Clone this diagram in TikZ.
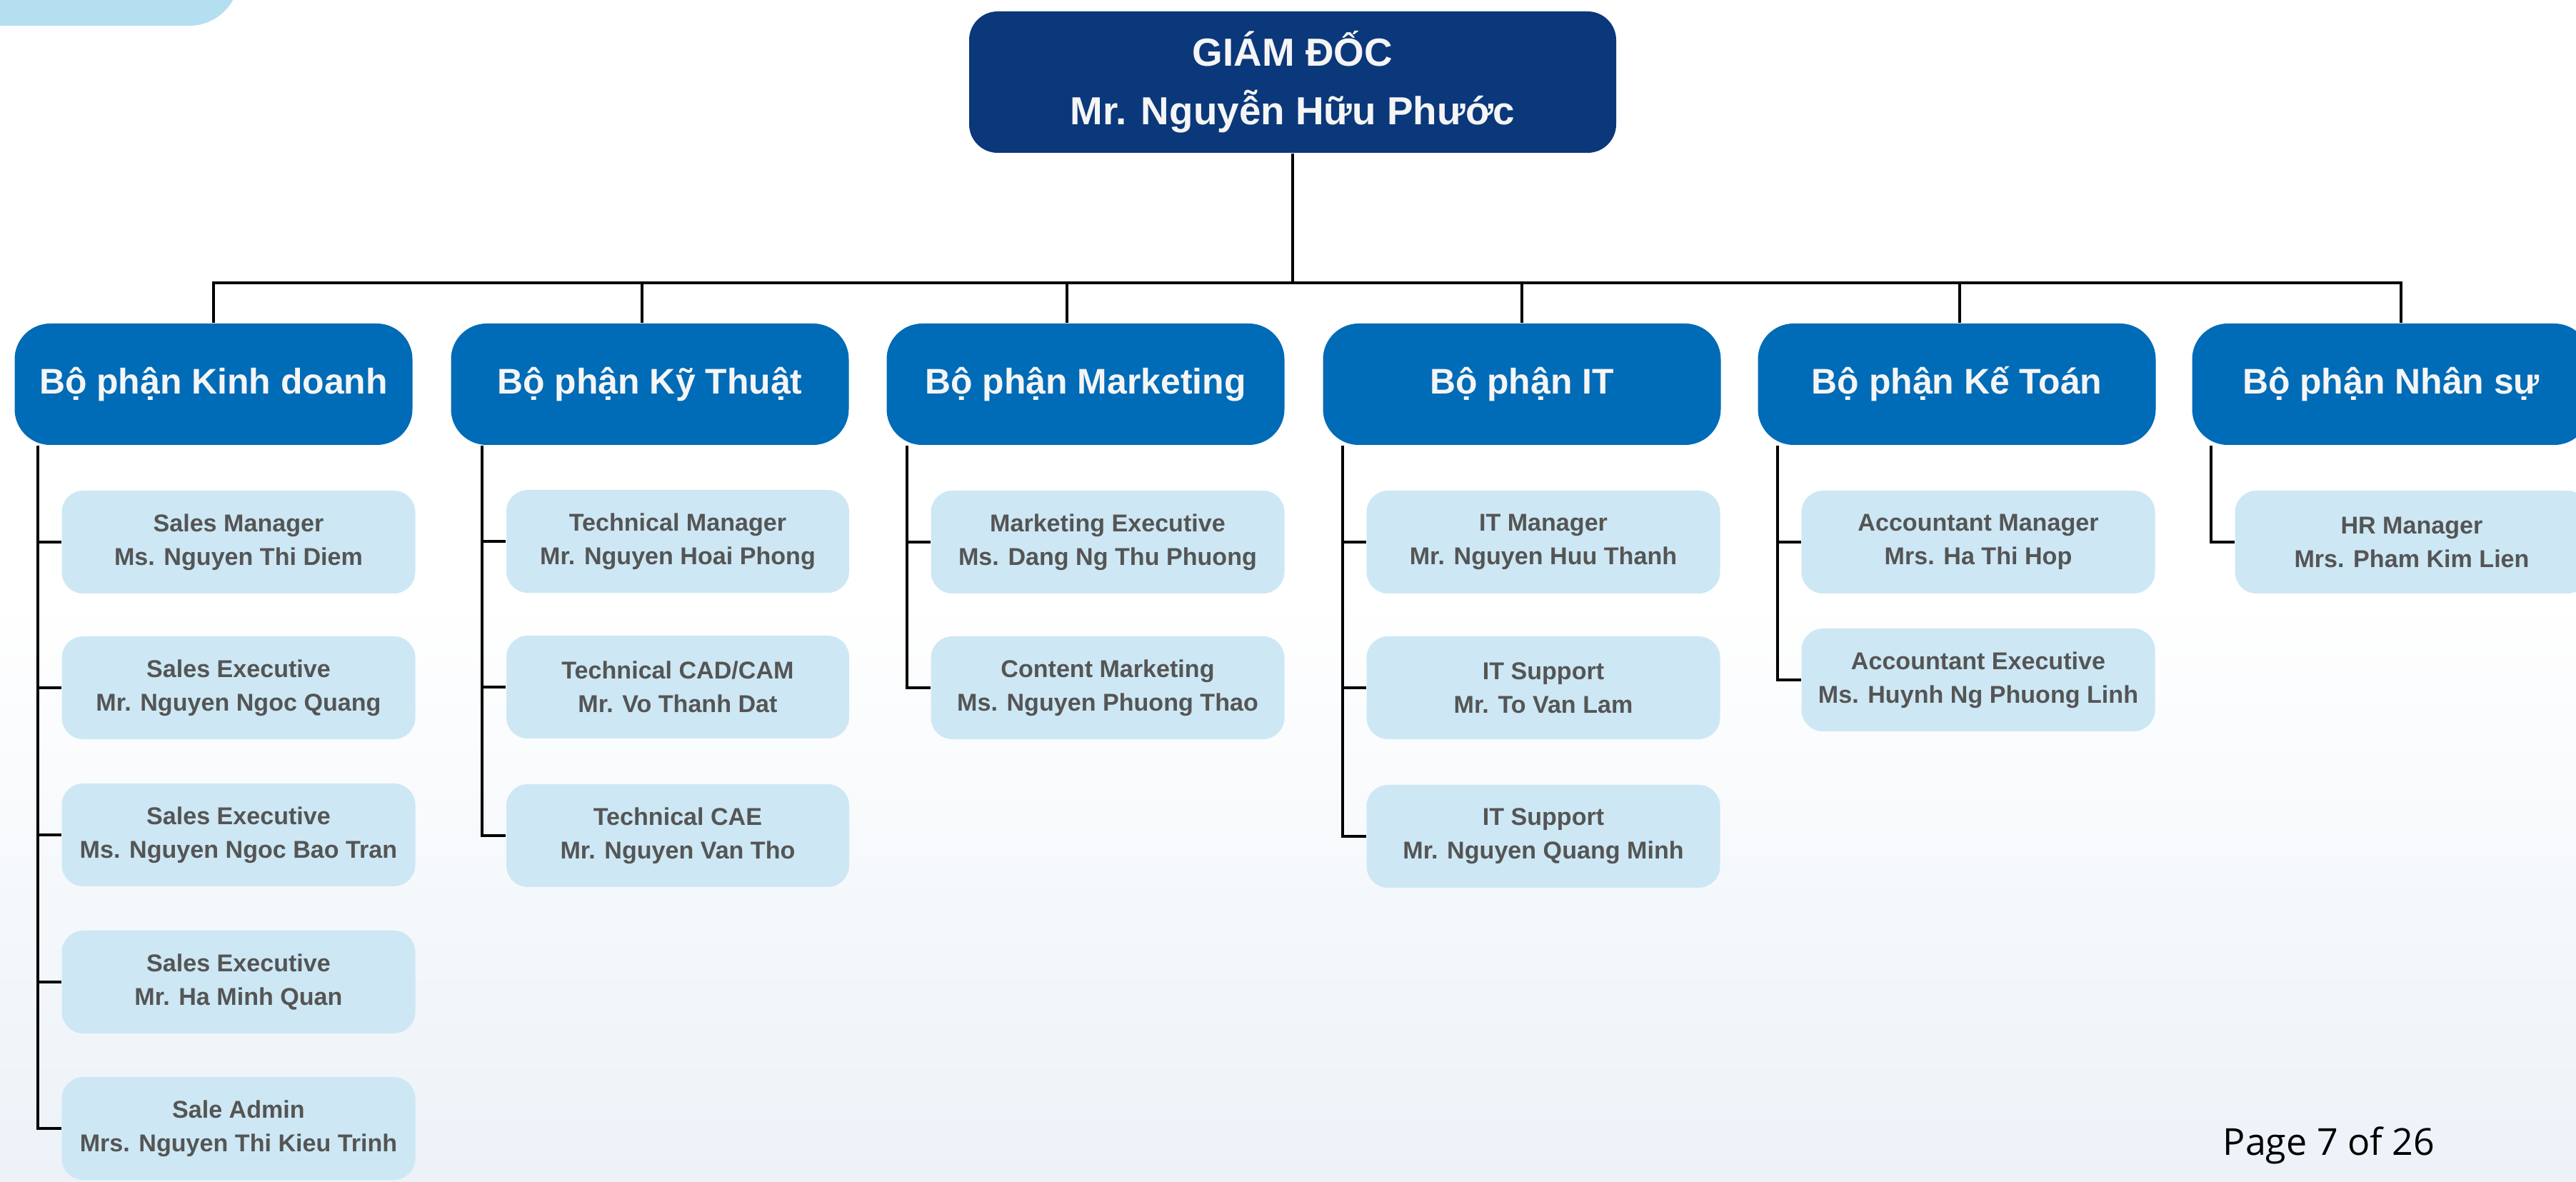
\documentclass[tikz,border=0pt]{standalone}
\usepackage{fontspec}
\setmainfont{Liberation Sans}
\newfontfamily\pagefont{Open Sans}
\usetikzlibrary{positioning,calc}
\definecolor{director}{RGB}{11,56,122}
\definecolor{department}{RGB}{0,107,182}
\definecolor{staff}{RGB}{205,232,244}
\definecolor{stafftext}{RGB}{85,85,85}
\definecolor{corner}{RGB}{179,223,241}
\definecolor{backtint}{RGB}{236,242,248}
\tikzstyle{boss}=[rectangle, rounded corners=0.4cm, fill=director, text=white!96!black, minimum width=9.06cm, minimum height=1.98cm, align=center, font=\bfseries\fontsize{15.6pt}{23.3pt}\selectfont]
\tikzstyle{dept}=[rectangle, rounded corners=0.5cm, fill=department, text=white!96!black, minimum width=5.57cm, minimum height=1.70cm, font=\bfseries\fontsize{14.2pt}{17pt}\selectfont]
\tikzstyle{member}=[rectangle, rounded corners=0.3cm, fill=staff, text=stafftext, minimum width=4.95cm, minimum height=1.44cm, align=center, font=\bfseries\fontsize{9.7pt}{13.4pt}\selectfont]
\tikzset{wire/.style={line width=0.04cm, black}}
\tikzset{y=-1cm}
\tikzset{x=1cm}

\begin{document}
\begin{tikzpicture}
  \clip (0,0) rectangle (36.07,16.55);
  \shade[top color=white, bottom color=backtint, middle color=white] (0,0) rectangle (36.07,16.55);
  \fill[corner, rounded corners=0.7cm] (-1,-1) rectangle (3.35,0.36);

  %% Director
  \draw (18.10,1.15) node[boss] (GD) {GIÁM ĐỐC\\Mr. Nguyễn Hữu Phước};
  \coordinate (bus) at (18.10,3.96);

  %% Departments
  \draw (2.99,5.38) node[dept] (KD) {Bộ phận Kinh doanh};
  \draw (9.10,5.38) node[dept] (KT) {Bộ phận Kỹ Thuật};
  \draw (15.20,5.38) node[dept] (MK) {Bộ phận Marketing};
  \draw (21.31,5.38) node[dept] (IT) {Bộ phận IT};
  \draw (27.40,5.38) node[dept] (KeT) {Bộ phận Kế Toán};
  \draw (33.48,5.38) node[dept] (NS) {Bộ phận Nhân sự};

  \draw[wire] (GD.south) -- (bus);
  \draw[wire] (bus) -| (KD.north);
  \draw[wire] (bus) -| ([xshift=-0.11cm]KT.north);
  \draw[wire] (bus) -| ([xshift=-0.26cm]MK.north);
  \draw[wire] (bus) -| (IT.north);
  \draw[wire] (bus) -| ([xshift=0.04cm]KeT.north);
  \draw[wire] (bus) -| ([xshift=0.14cm]NS.north);

  %% Kinh doanh
  \draw (3.34,7.59) node[member] (KD1) {Sales Manager\\Ms. Nguyen Thi Diem};
  \draw (3.34,9.63) node[member] (KD2) {Sales Executive\\Mr. Nguyen Ngoc Quang};
  \draw (3.34,11.69) node[member] (KD3) {Sales Executive\\Ms. Nguyen Ngoc Bao Tran};
  \draw (3.34,13.75) node[member] (KD4) {Sales Executive\\Mr. Ha Minh Quan};
  \draw (3.34,15.80) node[member] (KD5) {Sale Admin\\Mrs. Nguyen Thi Kieu Trinh};

  %% Ky Thuat
  \draw (9.49,7.58) node[member,minimum width=4.8cm] (KT1) {Technical Manager\\Mr. Nguyen Hoai Phong};
  \draw (9.49,9.62) node[member,minimum width=4.8cm] (KT2) {Technical CAD/CAM\\Mr. Vo Thanh Dat};
  \draw (9.49,11.70) node[member,minimum width=4.8cm] (KT3) {Technical CAE\\Mr. Nguyen Van Tho};

  %% Marketing
  \draw (15.51,7.59) node[member] (MK1) {Marketing Executive\\Ms. Dang Ng Thu Phuong};
  \draw (15.51,9.63) node[member] (MK2) {Content Marketing\\Ms. Nguyen Phuong Thao};

  %% IT
  \draw (21.61,7.59) node[member] (IT1) {IT Manager\\Mr. Nguyen Huu Thanh};
  \draw (21.61,9.63) node[member] (IT2) {IT Support\\Mr. To Van Lam};
  \draw (21.61,11.71) node[member] (IT3) {IT Support\\Mr. Nguyen Quang Minh};

  %% Ke Toan
  \draw (27.70,7.59) node[member] (KeT1) {Accountant Manager\\Mrs. Ha Thi Hop};
  \draw (27.70,9.52) node[member] (KeT2) {Accountant Executive\\Ms. Huynh Ng Phuong Linh};

  %% Nhan su
  \draw (33.77,7.59) node[member] (NS1) {HR Manager\\Mrs. Pham Kim Lien};

  %% Spines
  \coordinate (KDs) at ($(KD1.west |- KD.south)+(-0.33,0)$);
  \coordinate (KTs) at ($(KT1.west |- KT.south)+(-0.33,0)$);
  \coordinate (MKs) at ($(MK1.west |- MK.south)+(-0.33,0)$);
  \coordinate (ITs) at ($(IT1.west |- IT.south)+(-0.33,0)$);
  \coordinate (KeTs) at ($(KeT1.west |- KeT.south)+(-0.33,0)$);
  \coordinate (NSs) at ($(NS1.west |- NS.south)+(-0.33,0)$);

  \draw[wire] (KDs) |- (KD1.west);
  \draw[wire] (KDs) |- (KD2.west);
  \draw[wire] (KDs) |- (KD3.west);
  \draw[wire] (KDs) |- (KD4.west);
  \draw[wire] (KDs) |- (KD5.west);
  \draw[wire] (KTs) |- (KT1.west);
  \draw[wire] (KTs) |- (KT2.west);
  \draw[wire] (KTs) |- (KT3.west);
  \draw[wire] (MKs) |- (MK1.west);
  \draw[wire] (MKs) |- (MK2.west);
  \draw[wire] (ITs) |- (IT1.west);
  \draw[wire] (ITs) |- (IT2.west);
  \draw[wire] (ITs) |- (IT3.west);
  \draw[wire] (KeTs) |- (KeT1.west);
  \draw[wire] (KeTs) |- (KeT2.west);
  \draw[wire] (NSs) |- (NS1.west);

  %% Footer
  \draw (31.12,16.17) node[anchor=base west, inner sep=0pt, font=\pagefont\fontsize{14.8pt}{17pt}\selectfont] (page) {Page 7 of 26};
\end{tikzpicture}
\end{document}
